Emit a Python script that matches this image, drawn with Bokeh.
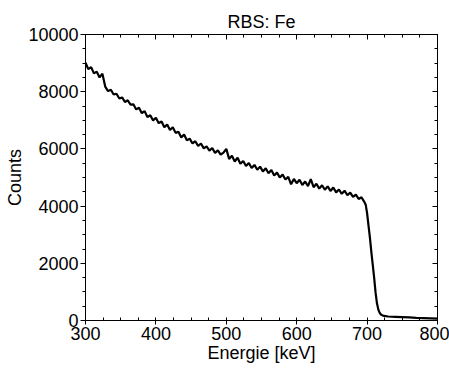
from bokeh.plotting import figure
from bokeh.models import LinearAxis, Range1d, ColumnDataSource, FixedTicker
from bokeh.embed import file_html
from bokeh.resources import INLINE

# Spectrum (energy in keV, counts)
energy_main = list(range(300, 700, 4))
counts_main = [
    9010, 8790, 8860, 8640, 8700, 8500, 8630, 8180, 8020, 8070,
    7900, 7930, 7760, 7800, 7640, 7700, 7550, 7560, 7380, 7440,
    7250, 7320, 7110, 7180, 6990, 7090, 6900, 6960, 6760, 6850,
    6660, 6760, 6560, 6600, 6400, 6500, 6300, 6360, 6190, 6270,
    6100, 6190, 6020, 6090, 5940, 6030, 5860, 5950, 5800, 5870,
    6000, 5650, 5760, 5560, 5690, 5480, 5580, 5400, 5510, 5330,
    5440, 5270, 5380, 5210, 5320, 5150, 5260, 5070, 5170, 5000,
    5100, 4930, 5020, 4760, 4950, 4800, 4920, 4740, 4860, 4700,
    4940, 4660, 4780, 4610, 4730, 4570, 4690, 4530, 4650, 4480,
    4580, 4430, 4540, 4380, 4470, 4320, 4400, 4250, 4310, 4150,
]
energy_edge = [698, 700, 702, 704, 706, 708, 710, 712, 714, 716, 718, 720,
               724, 730, 740, 750, 760, 770, 780, 790, 800]
counts_edge = [4050, 3750, 3320, 2900, 2400, 1950, 1500, 980, 600, 380, 260, 200,
               160, 140, 130, 120, 110, 95, 85, 75, 65]

energy = energy_main + energy_edge
counts = counts_main + counts_edge

title_text = "RBS: Fe"
x_label = "Energie [keV]"
y_label = "Counts"
x_ticks = [300, 400, 500, 600, 700, 800]
y_ticks = [0, 2000, 4000, 6000, 8000, 10000]
x_minor = list(range(300, 801, 25))
y_minor = list(range(0, 10001, 500))

FONT = "Liberation Sans"
FS = "18px"

p = figure(width=449, height=369, output_backend="svg", toolbar_location=None,
           x_range=Range1d(300, 800), y_range=Range1d(0, 10000),
           min_border_left=85, min_border_right=12, min_border_top=34,
           min_border_bottom=49, title=title_text)
p.title.align = "center"
p.title.text_font = FONT
p.title.text_font_size = FS
p.title.text_font_style = "normal"
p.title.text_color = "black"
p.title.standoff = 5

p.xgrid.visible = False
p.ygrid.visible = False
p.outline_line_color = "black"
p.outline_line_width = 1
p.background_fill_color = "white"
p.border_fill_color = "white"

src = ColumnDataSource(dict(x=energy, y=counts))
p.line("x", "y", source=src, line_color="black", line_width=2.2)

xa = p.xaxis[0]
ya = p.yaxis[0]
xa.ticker = FixedTicker(ticks=x_ticks, minor_ticks=x_minor)
ya.ticker = FixedTicker(ticks=y_ticks, minor_ticks=y_minor)
for ax in (xa, ya):
    ax.axis_line_color = "black"
    ax.major_tick_line_color = "black"
    ax.minor_tick_line_color = "black"
    ax.major_label_text_font = FONT
    ax.major_label_text_font_size = FS
    ax.major_label_text_color = "black"
    ax.axis_label_text_font = FONT
    ax.axis_label_text_font_size = FS
    ax.axis_label_text_font_style = "normal"
    ax.axis_label_text_color = "black"

xa.axis_label = x_label
ya.axis_label = y_label
xa.major_tick_out = 4
xa.major_tick_in = 0
xa.minor_tick_in = 3
xa.minor_tick_out = 0
xa.major_label_standoff = 2
xa.axis_label_standoff = 0
ya.major_tick_out = 5
ya.major_tick_in = 0
ya.minor_tick_out = 3
ya.minor_tick_in = 0
ya.major_label_standoff = 2
ya.axis_label_standoff = 0

top = LinearAxis(ticker=FixedTicker(ticks=x_ticks, minor_ticks=x_minor))
right = LinearAxis(ticker=FixedTicker(ticks=y_ticks, minor_ticks=y_minor))
for ax in (top, right):
    ax.major_label_text_color = None
    ax.major_label_text_font_size = "1px"
    ax.major_label_standoff = 0
    ax.major_tick_in = 5
    ax.major_tick_out = 0
    ax.minor_tick_in = 3
    ax.minor_tick_out = 0
    ax.axis_line_color = "black"
    ax.major_tick_line_color = "black"
    ax.minor_tick_line_color = "black"
p.add_layout(top, "above")
p.add_layout(right, "right")

open("out.html", "w").write(file_html(p, INLINE))
